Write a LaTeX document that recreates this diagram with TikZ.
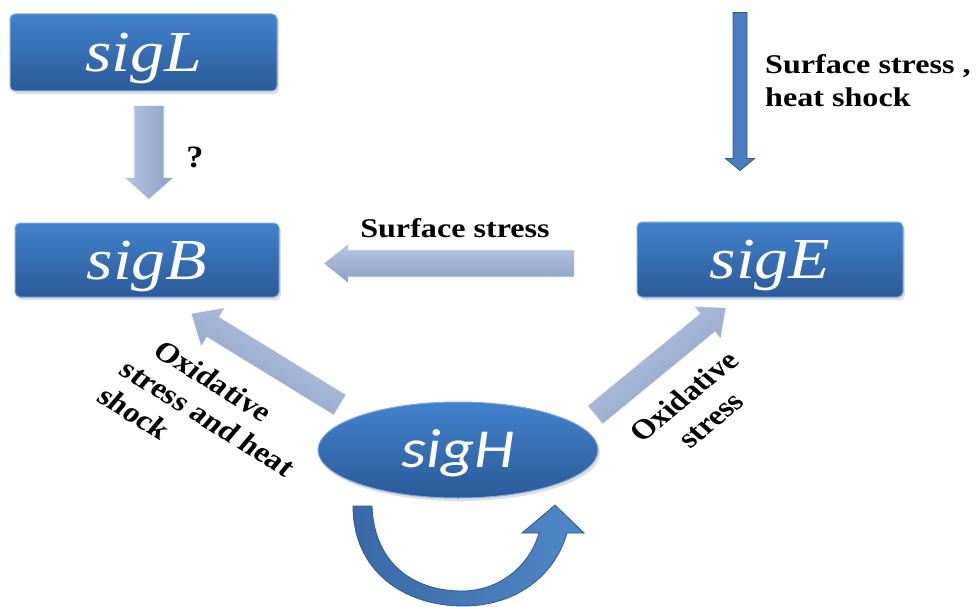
\documentclass[tikz,border=0pt]{standalone}
\usepackage{fontspec}
\setmainfont{Liberation Serif}
\newfontfamily\sansit{Carlito}
\usetikzlibrary{calc,shapes.geometric,shadows}

\definecolor{boxtop}{HTML}{4282CD}
\definecolor{boxbot}{HTML}{2B5A98}
\definecolor{boxedge}{HTML}{7FA8DC}
\definecolor{arrtop}{HTML}{B7C8E4}
\definecolor{arrbot}{HTML}{8C9FC2}
\definecolor{darkarr}{HTML}{4A7DBC}
\definecolor{darkedge}{HTML}{2F5890}
\definecolor{curvl}{HTML}{3A69A6}
\definecolor{curvr}{HTML}{5088C8}

% block arrow: start, tip, shaft half width, head half width, head length, style
\newcommand\blockarrow[6]{%
  \coordinate (ba-h) at ($(#2)!#5!(#1)$);
  \path[#6] ($(#1)!#3!90:(#2)$) -- ($(ba-h)!#3!90:(#2)$) -- ($(ba-h)!#4!90:(#2)$)
    -- (#2) -- ($(ba-h)!#4!-90:(#2)$) -- ($(ba-h)!#3!-90:(#2)$) -- ($(#1)!#3!-90:(#2)$) -- cycle;}

\begin{document}
\begin{tikzpicture}[x=1pt,y=-1pt,
  box/.style={draw=boxedge, line width=1pt, rounded corners=5pt,
    top color=boxtop, bottom color=boxbot, text=white,
    font=\fontsize{58}{60}\selectfont\itshape, text height=38pt, text depth=0pt,
    inner sep=0pt, drop shadow={opacity=0.25,shadow xshift=2pt,shadow yshift=-3pt}},
  lbl/.style={font=\fontsize{27}{33}\selectfont\bfseries, text=black, inner sep=0pt},
  rlbl/.style={font=\fontsize{28}{33}\selectfont\bfseries, text=black, inner sep=0pt},
  lightarr/.style={top color=arrtop, bottom color=arrbot, draw=white!80!arrtop, line width=0.8pt},
  darkbar/.style={fill=darkarr, draw=darkedge, line width=0.8pt},
]
\useasboundingbox (0,0) rectangle (980,607);

% boxes
\node[box, minimum width=267pt, minimum height=77pt] (sigL) at (143.5,52.5) {\scalebox{1.17}[1]{sigL}};
\node[box, minimum width=264pt, minimum height=74pt] (sigB) at (147,260) {\scalebox{1.17}[1]{sigB}};
\node[box, minimum width=266pt, minimum height=75pt] (sigE) at (770,259.5) {\scalebox{1.17}[1]{sigE}};
\node[ellipse, draw=boxedge, line width=1pt, top color=boxtop, bottom color=boxbot,
  minimum width=280pt, minimum height=96pt, inner sep=0pt, text=white,
  font=\fontsize{55}{56}\selectfont\sansit\itshape, text height=35pt, text depth=0pt,
  drop shadow={opacity=0.25,shadow xshift=2pt,shadow yshift=-3pt}]
  (sigH) at (458,450) {\scalebox{1.17}[1]{sigH}};

% sigL -> sigB
\coordinate (ls) at ($(sigL.south)+(5.5,14)$);
\coordinate (lt) at ($(sigB.north)+(2,-23)$);
\blockarrow{ls}{lt}{15pt}{25pt}{22pt}{lightarr, left color=arrtop, right color=arrbot}

% sigE -> sigB
\coordinate (hs) at ($(sigE.west)+(-62,4)$);
\coordinate (ht) at ($(sigB.east)+(44,3.5)$);
\blockarrow{hs}{ht}{13.5pt}{20pt}{25pt}{lightarr}

% sigH -> sigB
\coordinate (ds1) at ($(sigH.center)+(-118,-45)$);
\coordinate (dt1) at ($(sigB.south)+(44,16)$);
\blockarrow{ds1}{dt1}{12pt}{23pt}{26pt}{lightarr, shading angle=-32}

% sigH -> sigE
\coordinate (ds2) at ($(sigH.center)+(137,-35)$);
\coordinate (dt2) at ($(sigE.south)+(-44,10)$);
\blockarrow{ds2}{dt2}{12pt}{21pt}{24pt}{lightarr, shading angle=40}

% stress -> sigE (thin arrow from the top)
\coordinate (ts) at ($(sigE.north)+(-30,-209)$);
\coordinate (tt) at ($(sigE.north)+(-30,-51)$);
\blockarrow{ts}{tt}{7pt}{14.5pt}{12pt}{darkbar}

% self loop of sigH
\path[left color=curvl, right color=curvr, draw=darkedge, line width=0.8pt]
  (353,506) .. controls (353,572) and (405,606) .. (463,606)
  .. controls (520,606) and (556,572) .. (567,533) -- (584,533) -- (555,505)
  -- (522,533) -- (539,533) .. controls (530,565) and (500,591) .. (462,591)
  .. controls (412,591) and (374,562) .. (372,506) -- cycle;

% labels
\node[lbl, font=\fontsize{31}{33}\selectfont\bfseries] (q) at (195,157) {\scalebox{1.1}[1]{?}};
\node[lbl, anchor=base west] (ss1) at (765,74) {\scalebox{1.19}[1]{Surface stress ,}};
\node[lbl, anchor=base west] (ss2) at (765,107) {\scalebox{1.19}[1]{heat shock}};
\node[lbl, anchor=base] (sslbl) at (455,237) {\scalebox{1.19}[1]{Surface stress}};
\node[rlbl, align=left, xscale=1.17, rotate=-36] (oxl) at (208,418)
  {\hspace*{12pt}Oxidative\\stress and heat\\shock};
\node[rlbl, align=center, xscale=1.17, rotate=44] (oxr) at (697,408)
  {Oxidative\\stress};
\end{tikzpicture}
\end{document}
